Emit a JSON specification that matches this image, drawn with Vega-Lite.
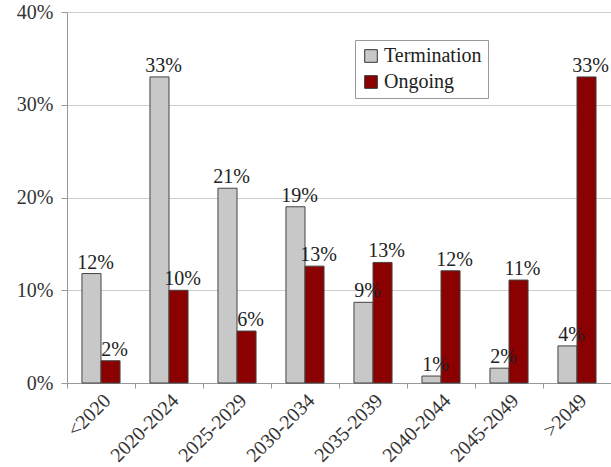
{
  "$schema": "https://vega.github.io/schema/vega-lite/v6.json",
  "width": 544,
  "height": 371,
  "autosize": {"type": "none"},
  "padding": {"left": 67, "top": 12, "right": 0, "bottom": 84},
  "background": "white",
  "config": {
    "font": "Liberation Serif",
    "view": {"stroke": null},
    "axis": {"labelFont": "Liberation Serif", "labelColor": "#333333", "labelFontSize": 20}
  },
  "data": {
    "values": [
      {"cat": "<2020", "series": "Termination", "value": 0.118},
      {"cat": "<2020", "series": "Ongoing", "value": 0.024},
      {"cat": "2020-2024", "series": "Termination", "value": 0.330},
      {"cat": "2020-2024", "series": "Ongoing", "value": 0.100},
      {"cat": "2025-2029", "series": "Termination", "value": 0.210},
      {"cat": "2025-2029", "series": "Ongoing", "value": 0.056},
      {"cat": "2030-2034", "series": "Termination", "value": 0.190},
      {"cat": "2030-2034", "series": "Ongoing", "value": 0.126},
      {"cat": "2035-2039", "series": "Termination", "value": 0.087},
      {"cat": "2035-2039", "series": "Ongoing", "value": 0.130},
      {"cat": "2040-2044", "series": "Termination", "value": 0.0075},
      {"cat": "2040-2044", "series": "Ongoing", "value": 0.121},
      {"cat": "2045-2049", "series": "Termination", "value": 0.016},
      {"cat": "2045-2049", "series": "Ongoing", "value": 0.111},
      {"cat": ">2049", "series": "Termination", "value": 0.040},
      {"cat": ">2049", "series": "Ongoing", "value": 0.330}
    ]
  },
  "encoding": {
    "x": {
      "field": "cat", "type": "nominal", "sort": null,
      "scale": {"paddingInner": 0.44, "paddingOuter": 0.22},
      "axis": {
        "title": null, "labelAngle": -45, "labelAlign": "right", "labelBaseline": "top",
        "tickOffset": -34, "labelOffset": 33, "domainColor": "#999999", "tickColor": "#999999",
        "tickSize": 5, "labelPadding": 2, "labelFontSize": 20, "grid": false
      }
    },
    "xOffset": {"field": "series", "type": "nominal", "sort": ["Termination", "Ongoing"], "scale": {"paddingInner": 0, "paddingOuter": 0}},
    "y": {
      "field": "value", "type": "quantitative",
      "scale": {"domain": [0, 0.4], "nice": false},
      "axis": {
        "title": null, "values": [0, 0.1, 0.2, 0.3, 0.4], "format": ".0%",
        "gridColor": "#cccccc", "domainColor": "#999999", "tickColor": "#999999",
        "tickSize": 6, "labelPadding": 8
      }
    }
  },
  "layer": [
    {
      "mark": {"type": "bar", "stroke": "#444444", "strokeWidth": 1},
      "encoding": {
        "color": {
          "field": "series", "type": "nominal",
          "scale": {"domain": ["Termination", "Ongoing"], "range": ["#c8c8c8", "#8b0000"]},
          "legend": {
            "title": null, "orient": "none", "legendX": 288, "legendY": 28,
            "symbolType": "square", "symbolSize": 160, "symbolStrokeColor": "#333333", "symbolStrokeWidth": 1,
            "labelFontSize": 20, "labelFont": "Liberation Serif", "labelColor": "#222222",
            "strokeColor": "#999999", "padding": 6, "rowPadding": 6, "labelOffset": 3
          }
        }
      }
    },
    {
      "mark": {"type": "text", "baseline": "bottom", "dy": -1, "dx": 4, "fontSize": 20, "font": "Liberation Serif", "color": "#222222"},
      "encoding": {
        "text": {"field": "value", "type": "quantitative", "format": ".0%"}
      }
    }
  ]
}
